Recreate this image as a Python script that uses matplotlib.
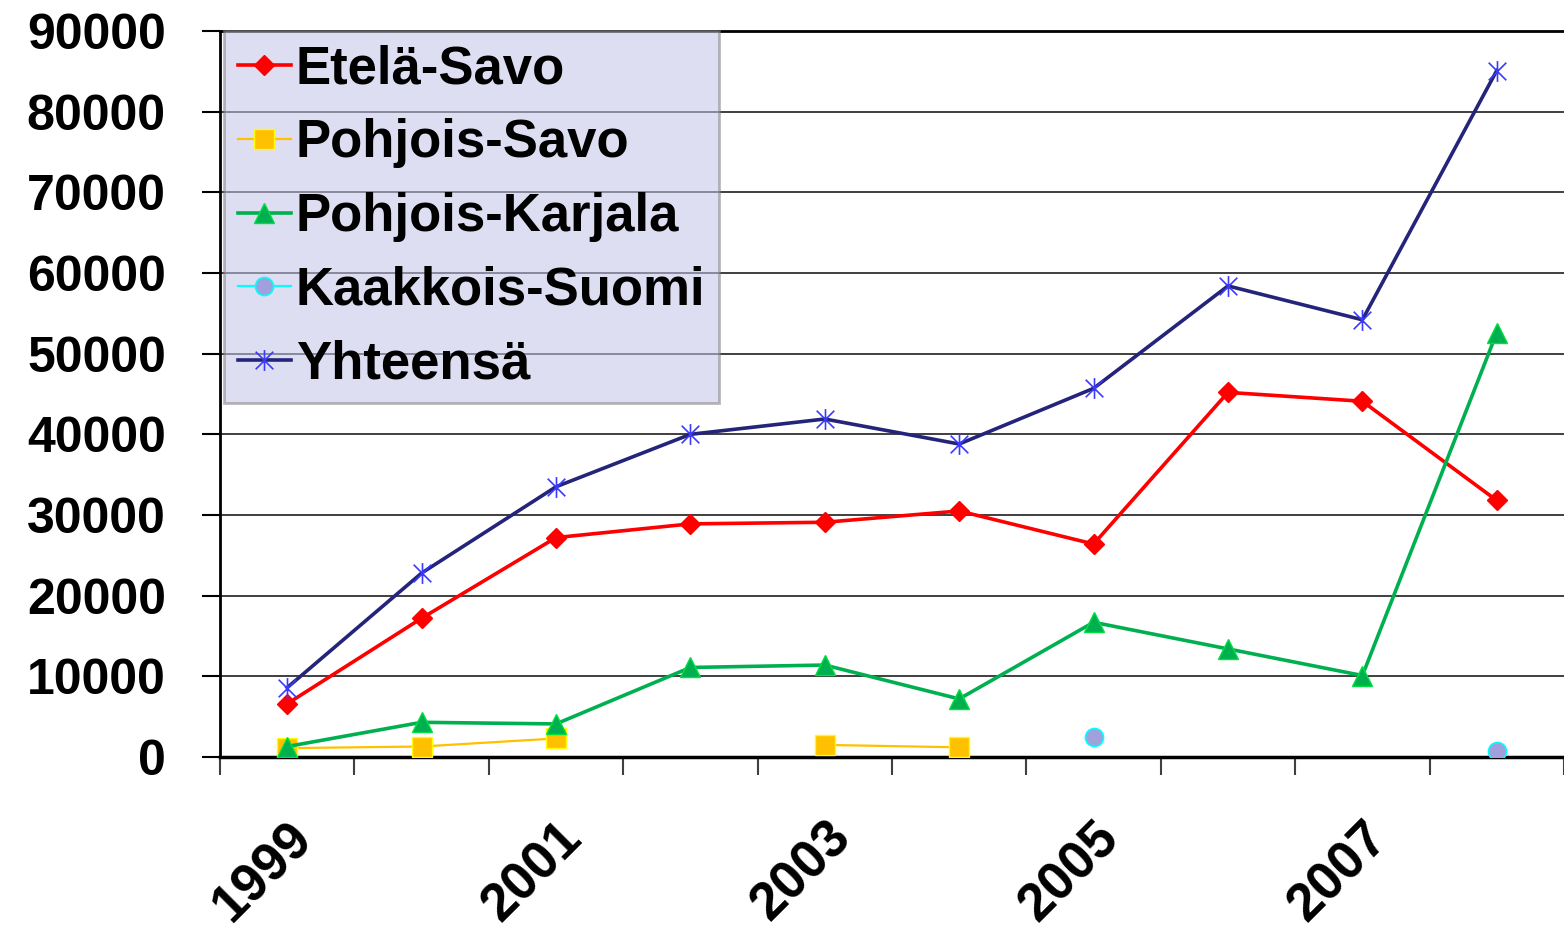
import numpy as np
import matplotlib
matplotlib.use("Agg")
import matplotlib.pyplot as plt
import matplotlib.transforms as mtransforms
from matplotlib.path import Path

plt.rcParams['font.family'] = ['Liberation Sans', 'DejaVu Sans']
plt.rcParams['font.weight'] = 'bold'

# Data
years = ["1999", "2000", "2001", "2002", "2003", "2004", "2005", "2006", "2007", "2008"]
etela_savo = [6600, 17200, 27200, 28900, 29100, 30500, 26400, 45200, 44100, 31800]
pohjois_savo = [1100, 1300, 2300, np.nan, 1500, 1200, np.nan, np.nan, np.nan, np.nan]
pohjois_karjala = [1300, 4300, 4100, 11100, 11400, 7200, 16700, 13400, 10100, 52600]
kaakkois_suomi = [np.nan, np.nan, np.nan, np.nan, np.nan, np.nan, 2500, np.nan, np.nan, 750]
yhteensa = [8600, 22800, 33500, 40000, 41900, 38800, 45700, 58400, 54200, 85100]

labels = ["Etelä-Savo", "Pohjois-Savo", "Pohjois-Karjala", "Kaakkois-Suomi", "Yhteensä"]

# Excel-style star marker: x with vertical bar
star = Path([(-1.1, -1.1), (1.1, 1.1), (-1.1, 1.1), (1.1, -1.1), (0, -1.3), (0, 1.3)],
            [Path.MOVETO, Path.LINETO, Path.MOVETO, Path.LINETO, Path.MOVETO, Path.LINETO])

fig = plt.figure(figsize=(15.64, 9.34), dpi=100)
ax = fig.add_axes([220 / 1564, 1 - 757 / 934, 1346 / 1564, 726 / 934])

x = np.arange(len(years))

ax.plot(x, etela_savo, color='#FF0000', lw=2.6, marker='D', ms=10,
        mfc='#FF0000', mec='#FF0000', label=labels[0], zorder=4)
ax.plot(x, pohjois_savo, color='#FFC000', lw=1.6, marker='s', ms=14,
        mfc='#FFC000', mec='#FFFF00', mew=1, label=labels[1], zorder=3)
ax.plot(x, pohjois_karjala, color='#00B050', lw=2.6, marker='^', ms=14,
        mfc='#00B050', mec='#00E040', mew=1, label=labels[2], zorder=4)
ax.plot(x, kaakkois_suomi, color='#00FFFF', lw=1.6, marker='o', ms=13,
        mfc='#A0A0DC', mec='#00FFFF', mew=1.2, label=labels[3], zorder=4)
ax.plot(x, yhteensa, color='#24247A', lw=2.6, marker=star, ms=15,
        mfc='none', mec='#3A3AFF', mew=1.2, label=labels[4], zorder=5)

ax.set_xlim(-0.5, len(years) - 0.5 + 0.015)
ax.set_ylim(0, 90000)
ax.set_yticks(np.arange(0, 90001, 10000))
ax.yaxis.grid(True, color='#303030', lw=1.3)
ax.set_axisbelow(True)

# boundary ticks (major) and year labels (minor) every other year
ax.set_xticks(np.arange(-0.5, len(years), 1))
ax.set_xticklabels([])
ax.set_xticks(x[::2], minor=True)
ax.set_xticklabels(years[::2], minor=True, rotation=45, ha='right', va='top',
                   rotation_mode='anchor', fontsize=38, fontweight='bold')
shift = mtransforms.ScaledTranslation(-8 / 100, 0, fig.dpi_scale_trans)
for lab in ax.get_xticklabels(minor=True):
    lab.set_transform(lab.get_transform() + shift)
ax.tick_params(axis='x', which='major', length=13, width=1.5, color='#404040', direction='out')
ax.tick_params(axis='x', which='minor', length=0, pad=40)
ax.tick_params(axis='y', length=13, width=1.5, labelsize=36, pad=26)
for lab in ax.get_yticklabels():
    lab.set_fontweight('bold')

ax.spines['right'].set_visible(False)
ax.spines['top'].set_linewidth(2)
ax.spines['left'].set_linewidth(2)
ax.spines['bottom'].set_linewidth(2.5)

leg = ax.legend(loc='upper left', bbox_to_anchor=(0.003, 1.0), borderaxespad=0,
                prop={'weight': 'bold', 'size': 38},
                handlelength=1.0, handletextpad=0.1, labelspacing=0.45,
                borderpad=0.26, fancybox=False, framealpha=0.55,
                facecolor='#c4c4ea', edgecolor='#808080')
leg.get_frame().set_linewidth(2)

fig.savefig('out.png', dpi=100)
